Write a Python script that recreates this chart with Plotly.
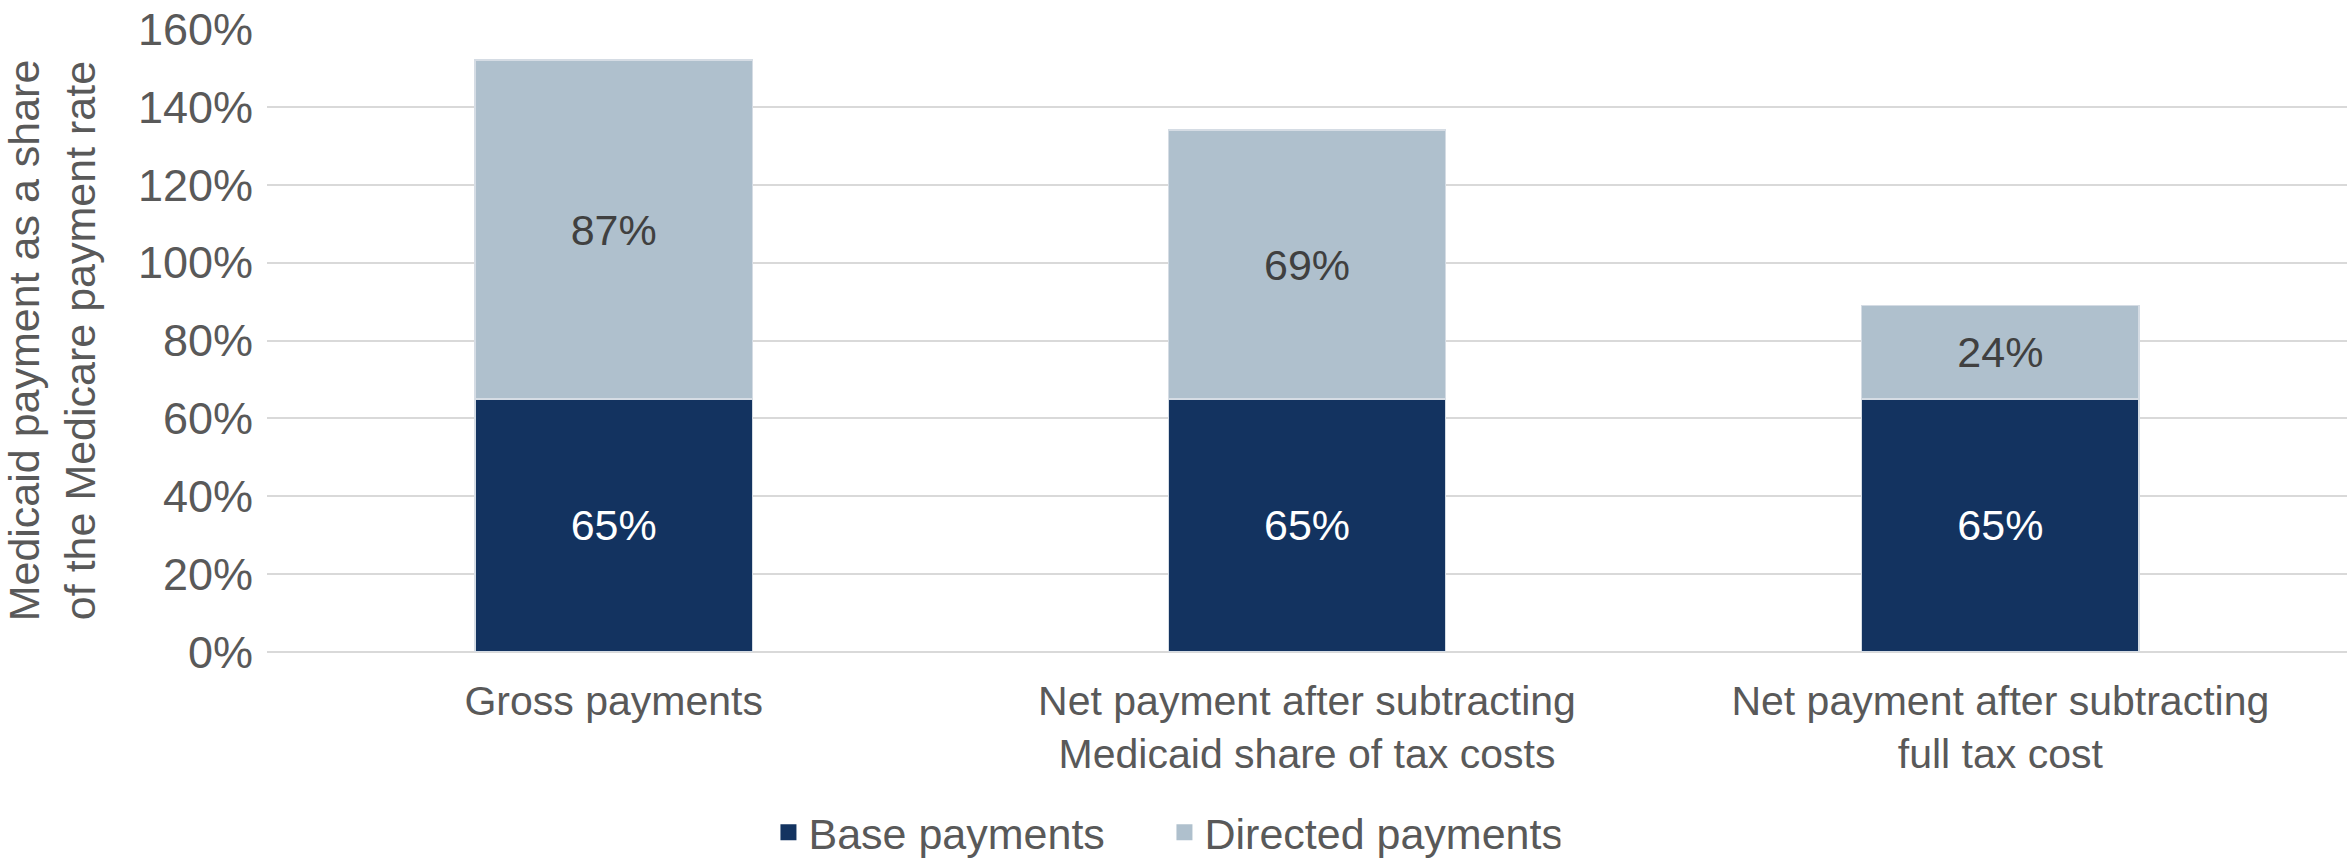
import plotly.graph_objects as go

categories = ["Gross payments",
              "Net payment after subtracting<br>Medicaid share of tax costs",
              "Net payment after subtracting<br>full tax cost"]
base_payments = [65, 65, 65]
directed_payments = [87, 69, 24]
y_ticks = [0, 20, 40, 60, 80, 100, 120, 140, 160]
y_tick_labels = [f"{v}%" for v in y_ticks]

DARK = "#133360"
LIGHT = "#AFC0CD"
FONT = "Liberation Sans, Arial, sans-serif"

fig = go.Figure()
fig.add_trace(go.Bar(
    x=categories, y=base_payments, name="Base payments",
    marker=dict(color=DARK, line=dict(color="#D5DCE4", width=1.5)),
    text=[f"{v}%" for v in base_payments], textposition="inside",
    insidetextanchor="middle", textangle=0,
    textfont=dict(color="white", size=43, family=FONT),
    showlegend=False, hoverinfo="skip"))
fig.add_trace(go.Bar(
    x=categories, y=directed_payments, name="Directed payments",
    marker=dict(color=LIGHT, line=dict(color="#D5DCE4", width=1.5)),
    text=[f"{v}%" for v in directed_payments], textposition="inside",
    insidetextanchor="middle", textangle=0,
    textfont=dict(color="#404040", size=43, family=FONT),
    showlegend=False, hoverinfo="skip"))
# legend entries
for nm, col in [("Base payments", DARK), ("Directed payments", LIGHT)]:
    fig.add_trace(go.Scatter(x=[None], y=[None], mode="markers", name=nm,
                             marker=dict(symbol="square", size=22, color=col)))

fig.update_layout(
    barmode="stack", bargap=0.6,
    width=2351, height=858,
    margin=dict(l=267, r=4, t=27, b=206),
    paper_bgcolor="white", plot_bgcolor="white",
    font=dict(family=FONT, size=42, color="#595959"),
    legend=dict(orientation="h", xref="container", yref="container",
                x=0.4953, xanchor="center", y=0.03, yanchor="middle",
                traceorder="normal",
                font=dict(size=43, color="#595959"),
                entrywidthmode="pixels", entrywidth=351,
                itemsizing="trace"),
)
fig.update_yaxes(range=[0, 160], tickvals=y_ticks, ticktext=y_tick_labels,
                 showgrid=True, gridcolor="#D9D9D9", gridwidth=2,
                 zeroline=True, zerolinecolor="#D9D9D9", zerolinewidth=2,
                 showline=False, ticks="", ticklabelstandoff=13,
                 tickfont=dict(size=45, color="#595959"),
                 title=dict(text="Medicaid payment as a share<br>of the Medicare payment rate",
                            font=dict(size=43, color="#595959"), standoff=28),
                 fixedrange=True)
fig.update_xaxes(showline=False, ticks="", ticklabelstandoff=21,
                 tickfont=dict(size=41, color="#595959"), fixedrange=True)

fig.write_html("out.html", config={"displayModeBar": False})
